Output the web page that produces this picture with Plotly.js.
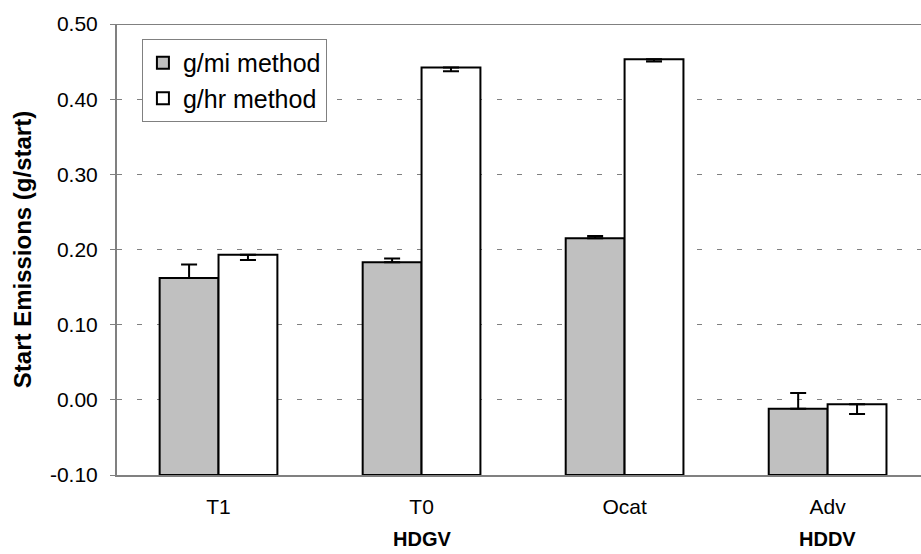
<!DOCTYPE html>
<html>
<head>
<meta charset="utf-8">
<script src="https://cdn.plot.ly/plotly-3.0.1.min.js"></script>
<style>html,body{margin:0;padding:0;background:#fff;}#chart{width:921px;height:554px;}</style>
</head>
<body>
<div id="chart"></div>
<script>
const categories = ["T1", "T0", "Ocat", "Adv"];
const groupLabels = ["HDGV", "HDDV"];
const groupAt = ["T0", "Adv"];
const gmiValues = [0.162, 0.183, 0.215, -0.012];
const gmiErrPlus = [0.018, 0.005, 0.003, 0.021];
const ghrValues = [0.193, 0.442, 0.453, -0.006];
const ghrErrMinus = [0.007, 0.005, 0.003, 0.013];
const yTicks = [-0.10, 0.00, 0.10, 0.20, 0.30, 0.40, 0.50];
const yTickText = ["-0.10", "0.00", "0.10", "0.20", "0.30", "0.40", "0.50"];

const axisMin = -0.10;
const zeros = categories.map(() => 0);

const traces = [
  {
    type: "bar", name: "g/mi method", x: categories,
    base: categories.map(() => axisMin),
    y: gmiValues.map(v => v - axisMin),
    marker: {color: "#c0c0c0", line: {color: "#000", width: 2}},
    error_y: {type: "data", symmetric: false, array: gmiErrPlus, arrayminus: zeros, color: "#000", thickness: 2, width: 8},
    legendgroup: "a", hoverinfo: "skip"
  },
  {
    type: "bar", name: "g/hr method", x: categories,
    base: categories.map(() => axisMin),
    y: ghrValues.map(v => v - axisMin),
    marker: {color: "#ffffff", line: {color: "#000", width: 2}},
    error_y: {type: "data", symmetric: false, array: zeros, arrayminus: ghrErrMinus, color: "#000", thickness: 2, width: 8},
    legendgroup: "b", hoverinfo: "skip"
  }
];

const layout = {
  width: 921, height: 554,
  margin: {l: 117, r: 0, t: 24, b: 79},
  paper_bgcolor: "#fff", plot_bgcolor: "#fff",
  font: {family: "Arial, 'Liberation Sans', sans-serif", color: "#000", size: 21},
  barmode: "group", bargap: 0.42, bargroupgap: 0,
  showlegend: true,
  legend: {
    x: 0.031, y: 0.967, xanchor: "left", yanchor: "top",
    bordercolor: "#808080", borderwidth: 1, bgcolor: "#fff",
    font: {size: 25, color: "#000"}, tracegroupgap: 9, traceorder: "normal",
    itemwidth: 30
  },
  xaxis: {
    type: "category", range: [-0.5, 3.46],
    showgrid: false, zeroline: false, showline: true, linecolor: "#808080", linewidth: 2,
    ticks: "", tickfont: {size: 21}, ticklabelstandoff: 12, fixedrange: true
  },
  yaxis: {
    range: [-0.10, 0.50], tickvals: yTicks, ticktext: yTickText,
    showgrid: true, gridcolor: "#808080", griddash: "5px,15px", gridwidth: 1,
    zeroline: false, showline: true, linecolor: "#808080", linewidth: 2,
    ticks: "outside", ticklen: 5, tickcolor: "#808080", tickwidth: 1,
    tickfont: {size: 21}, ticklabelstandoff: 8,
    title: {text: "<b>Start Emissions (g/start)</b>", font: {size: 24}, standoff: 12},
    fixedrange: true
  },
  shapes: [
    {type: "line", xref: "paper", yref: "y", x0: 0, x1: 1, y0: 0.50, y1: 0.50, line: {color: "#808080", width: 2}, layer: "above"}
  ],
  annotations: groupLabels.map((t, i) => ({
    text: "<b>" + t + "</b>", x: groupAt[i], xref: "x", y: 0, yref: "paper",
    yanchor: "middle", yshift: -64, showarrow: false, font: {size: 20}
  }))
};

Plotly.newPlot("chart", traces, layout, {displayModeBar: false, staticPlot: true});
</script>
</body>
</html>
